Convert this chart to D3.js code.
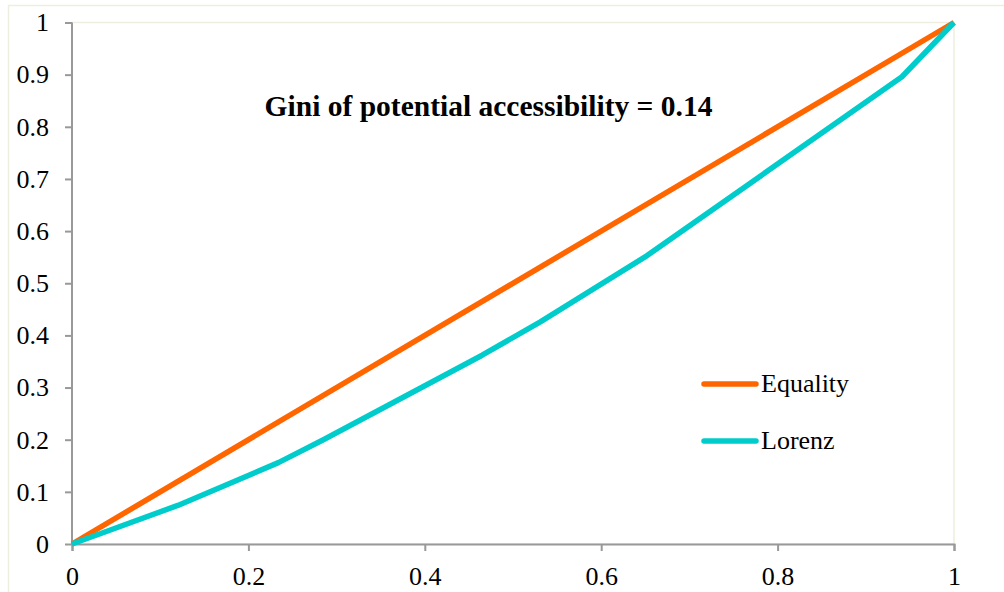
<!DOCTYPE html>
<html><head><meta charset="utf-8">
<script src="https://cdn.jsdelivr.net/npm/d3@7"></script>
<style>html,body{margin:0;padding:0;background:#fff;}svg{display:block;}</style>
</head><body><svg id="c" width="1004" height="592"></svg>
<script>
const equalityX = [0, 1];
const equalityY = [0, 1];
const lorenzX = [0, 0.12, 0.234, 0.285, 0.465, 0.531, 0.652, 0.941, 1];
const lorenzY = [0, 0.074, 0.156, 0.2, 0.362, 0.426, 0.553, 0.896, 1];
const xTicks = [0, 0.2, 0.4, 0.6, 0.8, 1];
const yTicks = [0, 0.1, 0.2, 0.3, 0.4, 0.5, 0.6, 0.7, 0.8, 0.9, 1];
const seriesNames = ["Equality", "Lorenz"];
const seriesColors = ["#ff6600", "#00cccc"];
const titleText = "Gini of potential accessibility = 0.14";

const FONT = '"Liberation Serif","Times New Roman",serif';
const svg = d3.select("#c");
const x = d3.scaleLinear().domain([0,1]).range([72, 954]);
const y = d3.scaleLinear().domain([0,1]).range([544, 22.5]);

svg.append("rect").attr("x",8.5).attr("y",5.5).attr("width",1010).attr("height",600)
  .attr("fill","none").attr("stroke","#eeeee0").attr("stroke-width",1.5);
svg.append("rect").attr("x",x(0)).attr("y",y(1)).attr("width",x(1)-x(0)).attr("height",y(0)-y(1))
  .attr("fill","none").attr("stroke","#eeeee0").attr("stroke-width",1.5);

const gx = svg.append("g").attr("transform",`translate(0,${y(0)})`)
  .call(d3.axisBottom(x).tickValues(xTicks).tickFormat(d3.format("")).tickSize(7).tickPadding(16));
const gy = svg.append("g").attr("transform",`translate(${x(0)},0)`)
  .call(d3.axisLeft(y).tickValues(yTicks).tickFormat(d3.format("")).tickSize(7).tickPadding(16));
[gx,gy].forEach(g=>{
  g.attr("font-family",null).attr("font-size",null);
  g.selectAll("path,line").attr("stroke","#999").attr("stroke-width",2);
  g.selectAll("text").style("font-family",FONT).style("font-size","26px").attr("fill","#000");
});
gy.select(".domain").attr("d",`M0,${y(1)}V${y(0)}`);

const line = d3.line().x(d=>x(d[0])).y(d=>y(d[1]));
const eqData = equalityX.map((v,i)=>[v,equalityY[i]]);
const loData = lorenzX.map((v,i)=>[v,lorenzY[i]]);
svg.append("path").datum(eqData).attr("d",line).attr("fill","none")
  .attr("stroke",seriesColors[0]).attr("stroke-width",5.5).attr("stroke-linejoin","round");
svg.append("path").datum(loData).attr("d",line).attr("fill","none")
  .attr("stroke",seriesColors[1]).attr("stroke-width",5.5).attr("stroke-linejoin","round");

svg.append("text").attr("x",488.5).attr("y",116).attr("text-anchor","middle")
  .style("font-family",FONT).style("font-weight","bold").style("font-size","29.5px").text(titleText);

const legY = [384, 441];
seriesNames.forEach((n,i)=>{
  svg.append("line").attr("x1",704).attr("x2",756).attr("y1",legY[i]).attr("y2",legY[i])
    .attr("stroke",seriesColors[i]).attr("stroke-width",5.5).attr("stroke-linecap","round");
  svg.append("text").attr("x",761).attr("y",legY[i]+8).style("font-family",FONT)
    .style("font-size","26px").text(n);
});
</script></body></html>
